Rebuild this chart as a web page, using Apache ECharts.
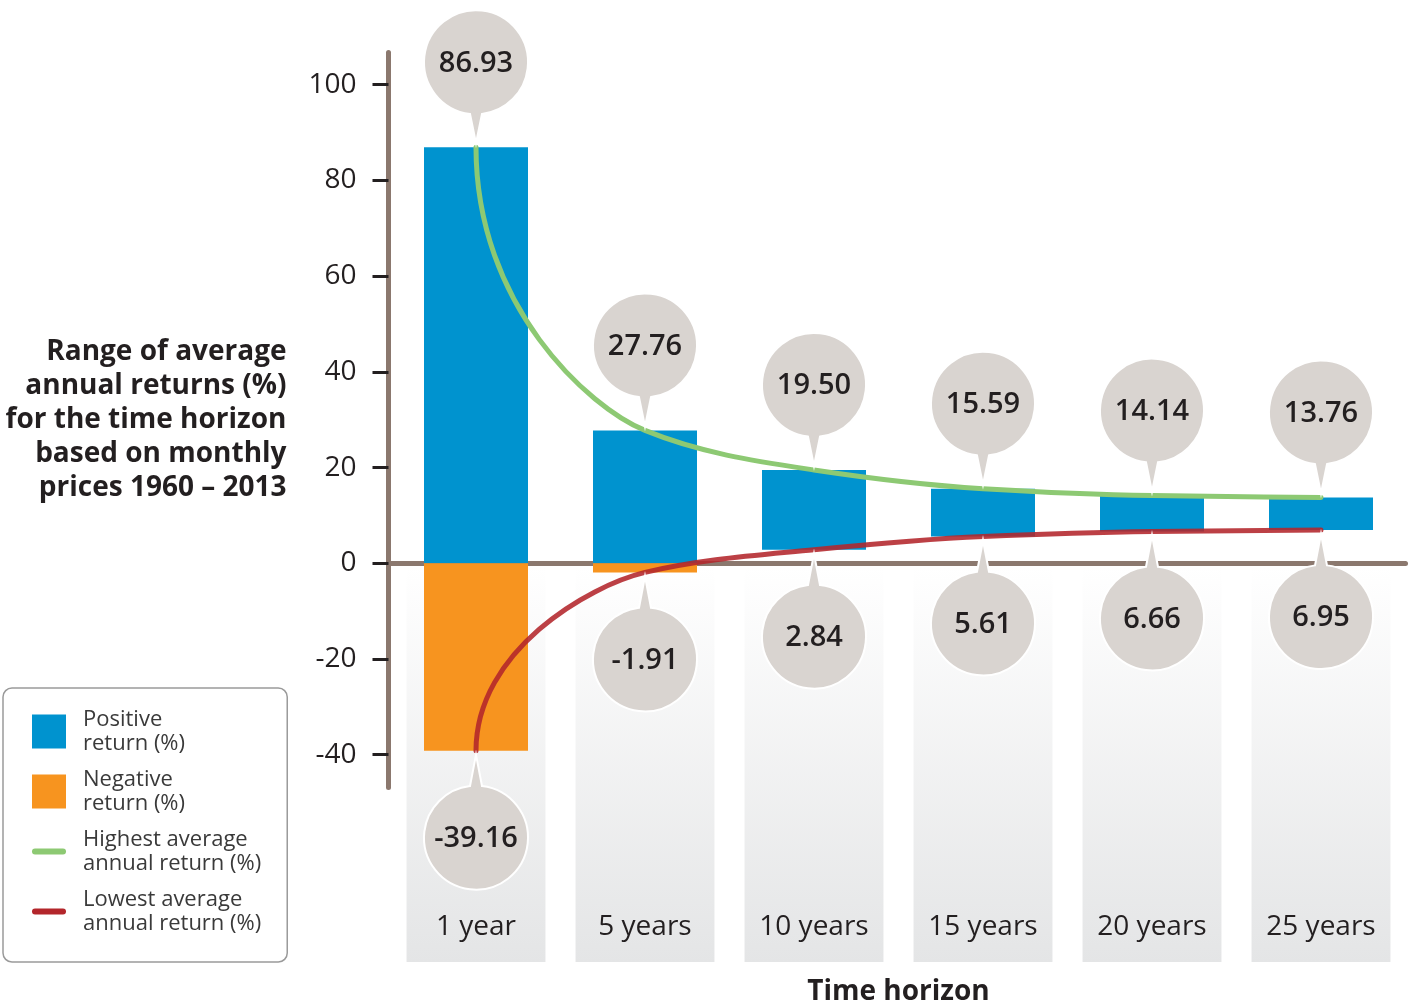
<!DOCTYPE html>
<html>
<head>
<meta charset="utf-8">
<script src="https://cdn.jsdelivr.net/npm/echarts@6/dist/echarts.min.js"></script>
<style>
html,body{margin:0;padding:0;background:#ffffff;}
#chart{width:1414px;height:1003px;}
</style>
</head>
<body>
<div id="chart"></div>
<script>
// ---------- data ----------
const categories = ['1 year', '5 years', '10 years', '15 years', '20 years', '25 years'];
const highestReturns = [86.93, 27.76, 19.50, 15.59, 14.14, 13.76];
const lowestReturns = [-39.16, -1.91, 2.84, 5.61, 6.66, 6.95];
const yTickValues = [-40, -20, 0, 20, 40, 60, 80, 100];
const seriesNames = ['Positive return (%)', 'Negative return (%)', 'Highest average annual return (%)', 'Lowest average annual return (%)'];
const legendLabels = ['Positive\nreturn (%)', 'Negative\nreturn (%)', 'Highest average\nannual return (%)', 'Lowest average\nannual return (%)'];
const yAxisTitle = 'Range of average\nannual returns (%)\nfor the time horizon\nbased on monthly\nprices 1960 \u2013 2013';
const xAxisTitle = 'Time horizon';

// ---------- style ----------
const FONT = '"Open Sans", "Noto Sans", sans-serif';
const TEXT = '#231F20';
const AXIS = '#8B786E';
const BLUE = '#0093CF';
const ORANGE = '#F7941F';
const GREEN = '#8DC973';
const RED = '#B3262B';
const BUBBLE = '#D9D4D0';

// derived tables for the stacked range bars
const baseVals = lowestReturns.map(v => Math.max(v, 0));
const posVals = highestReturns.map((h, i) => +(h - baseVals[i]).toFixed(2));
const negVals = lowestReturns.map(v => (v < 0 ? v : '-'));

const chart = echarts.init(document.getElementById('chart'), null, { renderer: 'canvas' });

function columnRender(params, api) {
  const p = api.coord([api.value(0), 0]);
  const w = api.size([1, 0])[0] * 0.822;
  const bottom = api.getHeight() - 41;
  return {
    type: 'rect',
    shape: { x: p[0] - w / 2, y: p[1] + 3, width: w, height: bottom - p[1] - 3 },
    style: {
      fill: new echarts.graphic.LinearGradient(0, 0, 0, 1, [
        { offset: 0, color: '#FFFFFF' },
        { offset: 1, color: '#E4E5E6' }
      ])
    }
  };
}

function makeCurveRender(color, opacity) {
  return function (params, api) {
    if (params.dataIndexInside !== 0) return null;
    const n = params.dataInsideLength;
    const pts = [];
    for (let i = 0; i < n; i++) pts.push(api.coord([api.value(0, i), api.value(1, i)]));
    const d = [];
    for (let i = 0; i < n - 1; i++) d.push((pts[i + 1][1] - pts[i][1]) / (pts[i + 1][0] - pts[i][0]));
    const m = [];
    m[n - 1] = d[n - 2];
    for (let i = 1; i < n - 1; i++) {
      m[i] = d[i - 1] * d[i] > 0 ? (2 * d[i - 1] * d[i]) / (d[i - 1] + d[i]) : 0;
    }
    let path = 'M' + pts[0][0] + ',' + pts[0][1];
    for (let i = 0; i < n - 1; i++) {
      const h = pts[i + 1][0] - pts[i][0];
      let c0;
      if (i === 0) c0 = [pts[0][0], pts[0][1] + 0.56 * (pts[1][1] - pts[0][1])];
      else c0 = [pts[i][0] + h / 3, pts[i][1] + m[i] * h / 3];
      const c1 = [pts[i + 1][0] - h / 3, pts[i + 1][1] - m[i + 1] * h / 3];
      path += ' C' + c0[0] + ',' + c0[1] + ' ' + c1[0] + ',' + c1[1] + ' ' + pts[i + 1][0] + ',' + pts[i + 1][1];
    }
    return {
      type: 'path',
      shape: { pathData: path },
      style: { fill: null, stroke: color, lineWidth: 5, lineCap: 'round', lineJoin: 'round', opacity: opacity }
    };
  };
}

function makeBubbleRender(dir) {
  // dir = -1: bubble above the point, dir = +1: bubble below
  return function (params, api) {
    const val = api.value(1);
    const p = api.coord([api.value(0), val]);
    const r = 52;
    const off = dir < 0 ? 85 : 87;
    const cx = p[0], cy = p[1] + dir * off;
    const theta = dir < 0 ? Math.PI / 2 : -Math.PI / 2;
    const delta = Math.asin(6 / r);
    const a0 = theta + delta, a1 = theta - delta;
    const sx = cx + r * Math.cos(a0), sy = cy + r * Math.sin(a0);
    const ex = cx + r * Math.cos(a1), ey = cy + r * Math.sin(a1);
    const tx = p[0], ty = p[1] + dir * 4;
    const pathData = 'M' + sx + ',' + sy + ' A' + r + ',' + r + ' 0 1 1 ' + ex + ',' + ey + ' L' + tx + ',' + ty + ' Z';
    return {
      type: 'group',
      children: [
        { type: 'path', shape: { pathData: pathData }, style: { fill: BUBBLE, stroke: '#FFFFFF', lineWidth: 2 } },
        {
          type: 'text',
          style: {
            text: val.toFixed(2), x: cx, y: cy + 1, align: 'center', verticalAlign: 'middle',
            fontSize: 29, fontWeight: 600, fontFamily: FONT, fill: TEXT
          }
        }
      ]
    };
  };
}

const option = {
  backgroundColor: '#ffffff',
  animation: false,
  grid: { left: 391.5, right: 8.5, top: 52.5, bottom: 215.5, containLabel: false, outerBoundsMode: 'none' },
  legend: {
    orient: 'vertical',
    left: 3,
    top: 688,
    padding: [19, 26, 26, 29],
    itemWidth: 34,
    itemHeight: 34,
    itemGap: 11,
    selectedMode: false,
    borderColor: '#9A9A9A',
    borderWidth: 1.5,
    borderRadius: 9,
    symbolKeepAspect: true,
    data: [
      { name: seriesNames[0], icon: 'rect' },
      { name: seriesNames[1], icon: 'rect' },
      { name: seriesNames[2], icon: 'path://M3,0 L31,0 A3,3 0 0 1 31,6 L3,6 A3,3 0 0 1 3,0 Z' },
      { name: seriesNames[3], icon: 'path://M3,0 L31,0 A3,3 0 0 1 31,6 L3,6 A3,3 0 0 1 3,0 Z' }
    ],
    formatter: function (name) { return legendLabels[seriesNames.indexOf(name)]; },
    textStyle: { fontFamily: FONT, fontSize: 22, lineHeight: 24.5, color: '#3A3A3A', padding: [0, 0, 0, 12] }
  },
  xAxis: [
    {
      type: 'category',
      data: categories,
      z: 1,
      axisLine: { onZero: true, lineStyle: { color: AXIS, width: 5, cap: 'round' } },
      axisTick: { show: false },
      axisLabel: { show: false },
      splitLine: { show: false }
    },
    {
      type: 'category',
      data: categories,
      position: 'bottom',
      z: 1,
      axisLine: { show: false, onZero: false },
      axisTick: { show: false },
      axisLabel: { margin: 126, fontFamily: FONT, fontSize: 28, color: TEXT },
      splitLine: { show: false },
      name: xAxisTitle,
      nameLocation: 'middle',
      nameGap: 191,
      nameTextStyle: { fontFamily: FONT, fontSize: 28, fontWeight: 'bold', color: TEXT }
    }
  ],
  yAxis: {
    type: 'value',
    min: -46.85,
    max: 106.73,
    offset: 3,
    z: 1,
    axisLine: { show: true, lineStyle: { color: AXIS, width: 5, cap: 'round' } },
    axisTick: { show: true, customValues: yTickValues, length: 16, lineStyle: { color: TEXT, width: 3 } },
    axisLabel: { customValues: yTickValues, margin: 32, fontFamily: FONT, fontSize: 28, color: TEXT },
    splitLine: { show: false },
    name: yAxisTitle,
    nameLocation: 'middle',
    nameRotate: 0,
    nameGap: 102,
    nameTextStyle: { fontFamily: FONT, fontSize: 28, fontWeight: 'bold', color: TEXT, lineHeight: 34, align: 'right' }
  },
  series: [
    {
      type: 'custom', name: 'columns', z: 0, clip: false, silent: true,
      renderItem: columnRender,
      data: categories.map((c, i) => [i])
    },
    {
      type: 'bar', name: 'base', stack: 'range', barWidth: 104, z: 2, silent: true,
      itemStyle: { color: 'rgba(0,0,0,0)' },
      data: baseVals
    },
    {
      type: 'bar', name: seriesNames[0], stack: 'range', barWidth: 104, z: 2,
      itemStyle: { color: BLUE },
      data: posVals
    },
    {
      type: 'bar', name: seriesNames[1], stack: 'range', barWidth: 104, z: 2,
      itemStyle: { color: ORANGE },
      data: negVals
    },
    {
      type: 'custom', name: seriesNames[2], z: 3, clip: false,
      itemStyle: { color: GREEN },
      renderItem: makeCurveRender(GREEN, 1),
      data: highestReturns.map((v, i) => [i, v])
    },
    {
      type: 'custom', name: seriesNames[3], z: 3, clip: false,
      itemStyle: { color: RED },
      renderItem: makeCurveRender(RED, 0.88),
      data: lowestReturns.map((v, i) => [i, v])
    },
    {
      type: 'custom', name: 'highBubbles', z: 4, clip: false,
      renderItem: makeBubbleRender(-1),
      data: highestReturns.map((v, i) => [i, v])
    },
    {
      type: 'custom', name: 'lowBubbles', z: 4, clip: false,
      renderItem: makeBubbleRender(1),
      data: lowestReturns.map((v, i) => [i, v])
    }
  ]
};

chart.setOption(option);
</script>
</body>
</html>
